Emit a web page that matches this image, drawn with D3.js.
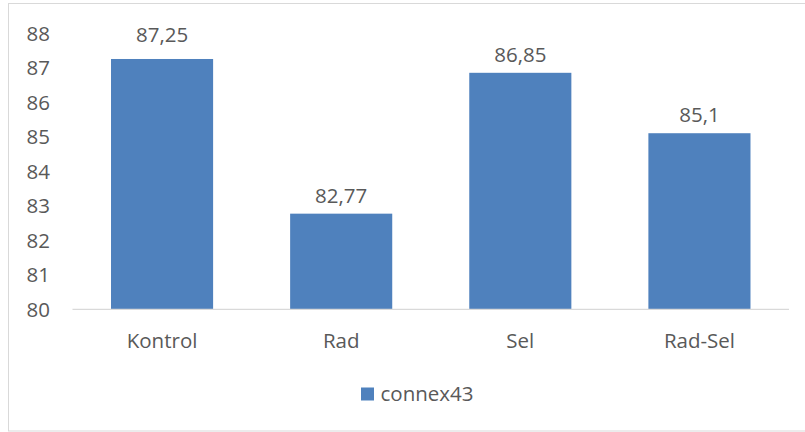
<!DOCTYPE html>
<html>
<head>
<meta charset="utf-8">
<script src="https://cdn.jsdelivr.net/npm/d3@7"></script>
<style>
  html, body { margin: 0; padding: 0; background: #fff; }
  svg { display: block; }
  text { font-family: "Open Sans", "Noto Sans", sans-serif; fill: #595959; }
</style>
</head>
<body>
<svg id="chart" width="805" height="432"></svg>
<script>
// Chart data
const categories = ["Kontrol", "Rad", "Sel", "Rad-Sel"];
const values = [87.25, 82.77, 86.85, 85.1];
const valueLabels = ["87,25", "82,77", "86,85", "85,1"];
const yTicks = [80, 81, 82, 83, 84, 85, 86, 87, 88];
const seriesName = "connex43";

const W = 805, H = 432;
const svg = d3.select("#chart");
const barColor = "#4f81bd";
const fontSize = 20.5;

// Outer chart frame
svg.append("rect")
  .attr("x", 8.5).attr("y", 3.5)
  .attr("width", W + 10).attr("height", 427.5)
  .attr("fill", "none").attr("stroke", "#d9d9d9").attr("stroke-width", 1);

const plot = { left: 72.5, right: 789, top: 33.1, bottom: 309.3 };

const x = d3.scaleBand()
  .domain(categories)
  .range([plot.left, plot.right])
  .paddingInner(0.43)
  .paddingOuter(0.215);

const y = d3.scaleLinear()
  .domain([80, 88])
  .range([plot.bottom, plot.top]);

// Bars
svg.append("g").selectAll("rect")
  .data(categories)
  .join("rect")
  .attr("x", d => x(d))
  .attr("width", x.bandwidth())
  .attr("y", (d, i) => y(values[i]))
  .attr("height", (d, i) => y(80) - y(values[i]))
  .attr("fill", barColor);

// Value labels above bars; labels near the top of the plot sit on the top tick line
svg.append("g").selectAll("text")
  .data(categories)
  .join("text")
  .attr("x", d => x(d) + x.bandwidth() / 2)
  .attr("y", (d, i) => {
    const ly = y(values[i]) - 11;
    return ly < 52 ? 42 : ly;
  })
  .attr("text-anchor", "middle")
  .attr("font-size", fontSize)
  .text((d, i) => valueLabels[i]);

// Y axis (labels only)
const yAxis = d3.axisLeft(y).tickValues(yTicks).tickSize(0).tickPadding(0).tickFormat(d3.format("d"));
const gy = svg.append("g").attr("transform", `translate(50,0)`).call(yAxis);
gy.select(".domain").remove();
gy.selectAll("text")
  .attr("font-size", fontSize)
  .attr("font-family", "Open Sans")
  .attr("fill", "#595959")
  .attr("dy", "0.35em")
  .attr("x", 0);

// X axis baseline and category labels
const xAxis = d3.axisBottom(x).tickSize(0).tickPadding(0);
const gx = svg.append("g").attr("transform", `translate(0,${plot.bottom})`).call(xAxis);
gx.select(".domain").attr("stroke", "#d9d9d9").attr("stroke-width", 1.2)
  .attr("d", `M${plot.left},0H${plot.right}`);
gx.selectAll("text")
  .attr("font-size", fontSize)
  .attr("font-family", "Open Sans")
  .attr("fill", "#595959")
  .attr("y", 39)
  .attr("dy", 0);

// Legend
const legend = svg.append("g").attr("transform", "translate(361,387.5)");
legend.append("rect").attr("width", 13).attr("height", 13).attr("fill", barColor);
legend.append("text")
  .attr("x", 19.5).attr("y", 13.2)
  .attr("font-size", fontSize)
  .text(seriesName);
</script>
</body>
</html>
